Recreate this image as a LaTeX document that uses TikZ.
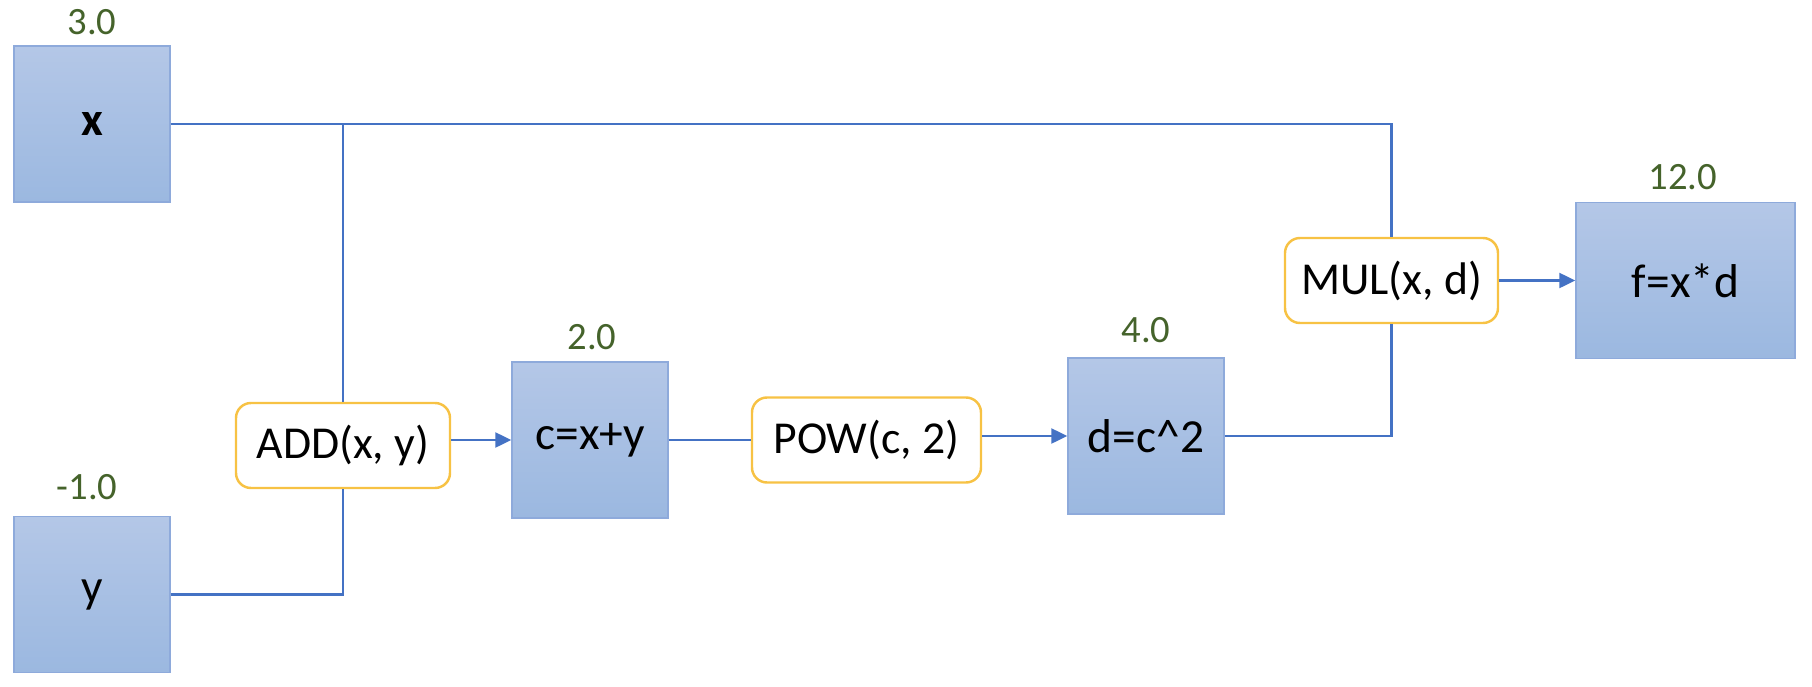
\documentclass[tikz,border=0pt]{standalone}
\usepackage{fontspec}
\setmainfont{Carlito}
\usetikzlibrary{arrows.meta}

\definecolor{boxtop}{HTML}{B4C7E7}
\definecolor{boxbot}{HTML}{9BB8E0}
\definecolor{boxline}{HTML}{8EAADB}
\definecolor{wireblue}{HTML}{4472C4}
\definecolor{opyellow}{HTML}{F7C244}
\definecolor{valgreen}{HTML}{45632B}

\begin{document}
\begin{tikzpicture}[
        valbox/.style={draw=boxline, line width=0.4pt, top color=boxtop, bottom color=boxbot,
            minimum width=1.56cm, minimum height=1.56cm, inner sep=0pt, font=\fontsize{13.5}{16}\selectfont},
        opbox/.style={draw=opyellow, line width=0.7pt, fill=white, rounded corners=0.15cm,
            minimum width=2.14cm, minimum height=0.85cm, inner sep=0pt, font=\fontsize{13}{15}\selectfont},
        grad/.style={text=valgreen, font=\fontsize{11}{13}\selectfont},
        wire/.style={draw=wireblue, line width=0.65pt},
        arr/.style={wire, -{Triangle[length=0.16cm,width=0.15cm]}}
    ]
        \useasboundingbox (0,0) rectangle (18.12,6.86);
        % values
        \node[valbox] (x) at (0.92,5.62) {\textbf{x}};
        \node[valbox] (y) at (0.92,0.915) {y};
        \node[valbox] (c) at (5.90,2.46) {c=x+y};
        \node[valbox] (d) at (11.46,2.50) {d=c\textasciicircum 2};
        \node[valbox, minimum width=2.19cm] (f) at (16.855,4.055) {f=x*d};
        % operations
        \node[opbox] (add) at (3.43,2.405) {ADD(x, y)};
        \node[opbox, minimum width=2.29cm] (pow) at (8.665,2.46) {POW(c, 2)};
        \node[opbox, minimum width=2.13cm] (mul) at (13.915,4.055) {MUL(x, d)};
        % numbers above the values
        \node[grad] (xval) at (0.92,6.64) {3.0};
        \node[grad] (yval) at (0.87,1.99) {-1.0};
        \node[grad] (cval) at (5.92,3.49) {2.0};
        \node[grad] (dval) at (11.46,3.56) {4.0};
        \node[grad] (fval) at (16.83,5.09) {12.0};
        % wires
        \draw[wire] (x.east) -- (x.east -| mul.north) -- (mul.north);
        \draw[wire] (x.east -| add.north) -- (add.north);
        \draw[wire] (y.east) -- (y.east -| add.south) -- (add.south);
        \draw[arr] (add.east |- c.west) -- (c.west);
        \draw[wire] (c.east) -- (pow.west);
        \draw[arr] (pow.east |- d.west) -- (d.west);
        \draw[wire] (d.east) -- (d.east -| mul.south) -- (mul.south);
        \draw[arr] (mul.east) -- (f.west);
    \end{tikzpicture}
\end{document}
